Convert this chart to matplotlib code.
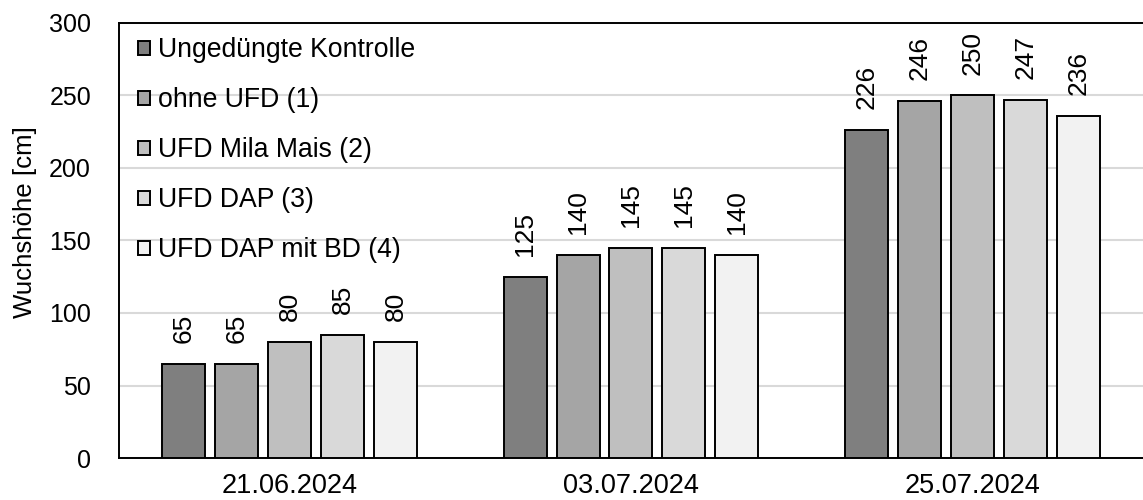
import numpy as np
import matplotlib.pyplot as plt

plt.rcParams['font.family'] = ['Liberation Sans', 'DejaVu Sans']

dates = ['21.06.2024', '03.07.2024', '25.07.2024']
series = ['Ungedüngte Kontrolle', 'ohne UFD (1)', 'UFD Mila Mais (2)',
          'UFD DAP (3)', 'UFD DAP mit BD (4)']
kontrolle = [65, 125, 226]
ohne_ufd = [65, 140, 246]
mila_mais = [80, 145, 250]
dap = [85, 145, 247]
dap_bd = [80, 140, 236]
values = [kontrolle, ohne_ufd, mila_mais, dap, dap_bd]
colors = ['#7f7f7f', '#a5a5a5', '#bfbfbf', '#d9d9d9', '#f2f2f2']

fig = plt.figure(figsize=(11.43, 5), dpi=100)
ax = fig.add_axes([0.104, 0.084, 0.896, 0.87])

x = np.arange(len(dates))
pitch = 0.155
width = 0.126
for j, (name, vals, c) in enumerate(zip(series, values, colors)):
    pos = x + (j - 2) * pitch
    bars = ax.bar(pos, vals, width, color=c, edgecolor='black',
                  linewidth=1.4, label=name, zorder=3)
    for b, v in zip(bars, vals):
        ax.annotate(str(v), (b.get_x() + b.get_width() / 2, v),
                    xytext=(0, 15), textcoords='offset points',
                    rotation=90, ha='center', va='bottom', fontsize=19)

ax.set_xlim(-0.5, 2.5)
ax.set_ylim(0, 300)
ax.set_yticks(range(0, 301, 50))
ax.set_xticks(x)
ax.set_xticklabels(dates)
ax.tick_params(axis='both', length=0)
ax.tick_params(axis='y', labelsize=18, pad=20)
ax.tick_params(axis='x', labelsize=19.5, pad=11)
ax.set_ylabel('Wuchshöhe [cm]', fontsize=18.6)
ax.yaxis.set_label_coords(-0.08, 0.543)
ax.yaxis.grid(True, color='#d9d9d9', linewidth=1.5, zorder=0)
ax.set_axisbelow(True)

for s in ['left', 'top', 'bottom']:
    ax.spines[s].set_color('black')
    ax.spines[s].set_linewidth(1.4)
ax.spines['right'].set_visible(False)

ax.legend(loc='upper left', frameon=False, fontsize=19.2,
          handlelength=0.45, handleheight=0.45, handletextpad=0.3,
          labelspacing=0.9, borderaxespad=0.3,
          bbox_to_anchor=(0.0, 1.01))

plt.savefig('out.png')
